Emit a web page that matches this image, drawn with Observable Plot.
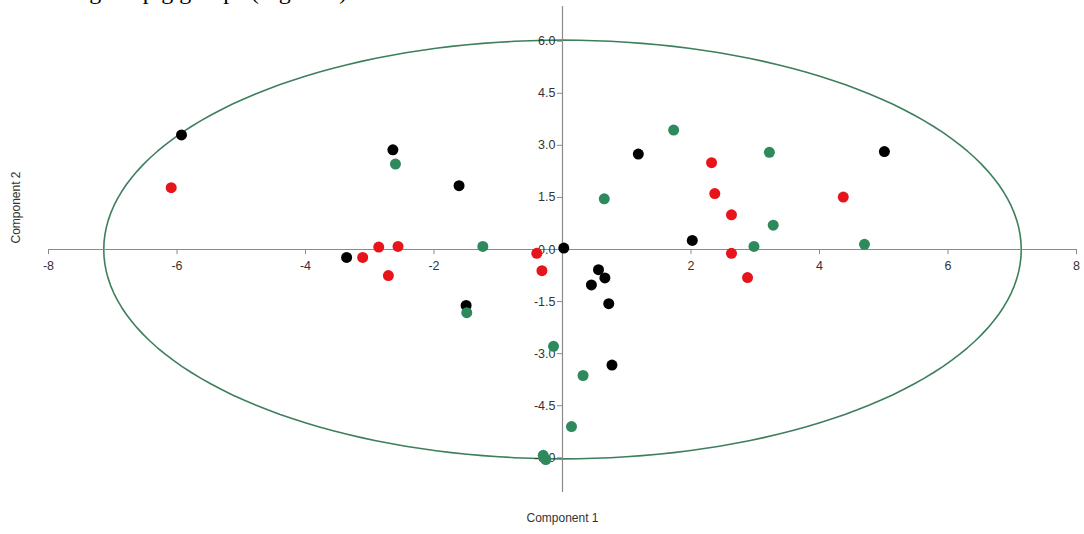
<!DOCTYPE html>
<html>
<head>
<meta charset="utf-8">
<script src="https://cdn.jsdelivr.net/npm/d3@7"></script>
<script src="https://cdn.jsdelivr.net/npm/@observablehq/plot@0.6"></script>
<style>
  html, body { margin: 0; padding: 0; background: #fff; overflow: hidden; }
  #wrap { position: relative; width: 1084px; height: 534px; overflow: hidden; }
  #chart svg { display: block; }
  #frag { position: absolute; left: 36px; top: -21px; font: 24px "Liberation Serif", "Times New Roman", serif; color: #000; white-space: nowrap; line-height: 24px; }
</style>
</head>
<body>
<div id="wrap">
  <div id="chart"></div>
  <div id="frag">among the pig groups (Figure 5).</div>
</div>
<script>
// Group 1 (black)
const blackX = [-5.93, -2.64, -1.61, -3.36, -1.50, 0.02, 1.18, 2.02, 5.01, 0.56, 0.66, 0.45, 0.72, 0.77];
const blackY = [ 3.30,  2.87,  1.84, -0.23, -1.61, 0.04, 2.75, 0.26, 2.82, -0.58, -0.82, -1.02, -1.56, -3.33];
// Group 2 (red)
const redX = [-6.09, -2.86, -2.56, -3.11, -2.71, -0.40, -0.32, 2.32, 2.37, 2.63, 2.63, 2.88, 4.37];
const redY = [ 1.78,  0.07,  0.09, -0.23, -0.75, -0.11, -0.61, 2.50, 1.61, 1.00, -0.11, -0.81, 1.51];
// Group 3 (green)
const greenX = [-2.60, -1.24, -1.49, -0.14, 0.32, 0.14, -0.30, -0.26, 0.65, 1.73, 3.22, 3.28, 2.98, 4.70];
const greenY = [ 2.46,  0.09, -1.82, -2.79, -3.63, -5.10, -5.93, -6.05, 1.46, 3.44, 2.80, 0.70, 0.09, 0.15];

// Confidence ellipse parameters
const ellipseCenter = [0, 0];
const ellipseRadii = [7.14, 6.03];

// Tick labels
const xTicks = [-8, -6, -4, -2, 2, 4, 6, 8];
const yTicks = [-6, -4.5, -3, -1.5, 0, 1.5, 3, 4.5, 6];

const groups = [
  {name: "black", xs: blackX, ys: blackY, color: "#000000"},
  {name: "red", xs: redX, ys: redY, color: "#e8141b"},
  {name: "green", xs: greenX, ys: greenY, color: "#2e8a5c"}
];
const points = groups.flatMap(g => g.xs.map((x, i) => ({x, y: g.ys[i], color: g.color})));

const ellipsePts = d3.range(0, 361, 2).map(a => {
  const t = a * Math.PI / 180;
  return {x: ellipseCenter[0] + ellipseRadii[0] * Math.cos(t), y: ellipseCenter[1] + ellipseRadii[1] * Math.sin(t)};
});

const axisColor = "#8a8a8a";
const labelColor = "#333";

const plot = Plot.plot({
  width: 1084,
  height: 534,
  marginLeft: 48,
  marginRight: 8,
  marginTop: 6,
  marginBottom: 42,
  x: {domain: [-8, 8], axis: null},
  y: {domain: [-7, 7], axis: null},
  style: {fontFamily: "'Liberation Sans', Arial, sans-serif", fontSize: "12px", background: "#fff"},
  marks: [
    Plot.line(ellipsePts, {x: "x", y: "y", stroke: "#3d7f5c", strokeWidth: 1.6}),
    Plot.ruleY([0], {stroke: axisColor, strokeWidth: 1.2}),
    Plot.ruleX([0], {stroke: axisColor, strokeWidth: 1.2}),
    // x ticks
    Plot.ruleX(xTicks, {x: d => d, y1: 0, y2: -0.15, stroke: axisColor}),
    Plot.text(xTicks, {x: d => d, y: 0, dy: 16, text: d => String(d), fill: labelColor, fontSize: 12.5}),
    // y ticks
    Plot.ruleY(yTicks, {y: d => d, x1: -0.08, x2: 0, stroke: axisColor}),
    Plot.text(yTicks, {x: 0, y: d => d, dx: -7, textAnchor: "end", text: d => d.toFixed(1), fill: labelColor, fontSize: 12.5}),
    // points
    Plot.dot(points, {x: "x", y: "y", r: 5.5, fill: d => d.color, stroke: "none"}),
    // axis titles
    Plot.text(["Component 1"], {frameAnchor: "bottom", dy: 29, text: d => d, fill: "#333", fontSize: 12}),
    Plot.text(["Component 2"], {frameAnchor: "left", dx: -32, dy: -6, rotate: -90, text: d => d, fill: "#333", fontSize: 12})
  ]
});
document.getElementById("chart").appendChild(plot);
</script>
</body>
</html>
